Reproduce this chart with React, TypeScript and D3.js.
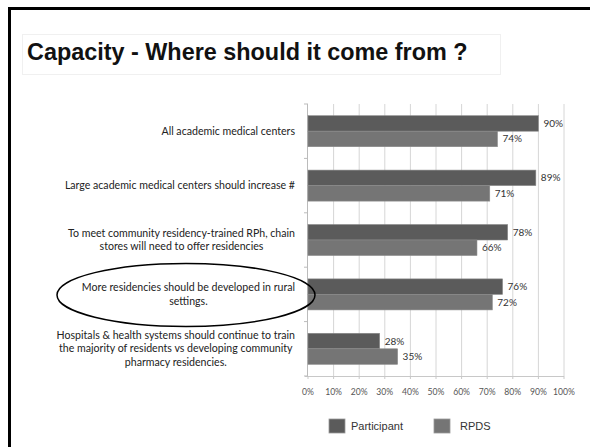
import React, { useEffect, useRef } from "react";
import * as d3 from "d3";

const categories = [
  ["All academic medical centers"],
  ["Large academic medical centers should increase #"],
  ["To meet community  residency-trained RPh, chain", "stores  will need to offer residencies"],
  ["More residencies should be developed in rural", "settings."],
  ["Hospitals & health systems should continue to train", "the majority of residents vs developing community", "pharmacy residencies."],
];
const participant = [90, 89, 78, 76, 28];
const rpds = [74, 71, 66, 72, 35];
const seriesNames = ["Participant", "RPDS"];
const xTicks = [0, 10, 20, 30, 40, 50, 60, 70, 80, 90, 100];
const title = "Capacity - Where should it come from ?";
const highlighted = 3;

const colors = ["#5b5b5b", "#757575"];

export default function App() {
  const ref = useRef<SVGSVGElement>(null);
  useEffect(() => {
    const svg = d3.select(ref.current);
    svg.selectAll("*").remove();

    // frame
    svg.append("rect").attr("x", 9.5).attr("y", 8.5).attr("width", 600).attr("height", 460)
      .attr("fill", "white").attr("stroke", "black").attr("stroke-width", 3);

    // title box
    svg.append("rect").attr("x", 22.5).attr("y", 34.5).attr("width", 478).attr("height", 40)
      .attr("fill", "none").attr("stroke", "#f0f0f0").attr("stroke-width", 1);
    svg.append("text").attr("x", 27).attr("y", 59.5).text(title)
      .attr("font-family", "Liberation Sans, Arial, sans-serif").attr("font-weight", "bold")
      .attr("font-size", 23.4).attr("fill", "#111");

    const left = 308, right = 564, top = 104, bottom = 376;
    const x = d3.scaleLinear().domain([0, 100]).range([left, right]);
    const y = d3.scaleBand<number>().domain(d3.range(categories.length)).range([top, bottom]).paddingInner(0.43).paddingOuter(0.215);
    const sub = d3.scaleBand<number>().domain([0, 1]).range([0, y.bandwidth()]);

    // gridlines
    svg.append("g").selectAll("line").data(xTicks.slice(1)).join("line")
      .attr("x1", (d) => x(d)).attr("x2", (d) => x(d)).attr("y1", top).attr("y2", bottom)
      .attr("stroke", "#d6d6d6").attr("stroke-width", 1);

    // x axis baseline
    svg.append("line").attr("x1", left - 3).attr("x2", right).attr("y1", bottom + 0.5).attr("y2", bottom + 0.5)
      .attr("stroke", "#c8c8c8");
    svg.append("g").selectAll("line").data(xTicks).join("line")
      .attr("x1", (d) => x(d)).attr("x2", (d) => x(d)).attr("y1", bottom).attr("y2", bottom + 3)
      .attr("stroke", "#c8c8c8");
    svg.append("g").selectAll("text").data(xTicks).join("text")
      .attr("x", (d) => x(d)).attr("y", bottom + 19).attr("text-anchor", "middle")
      .attr("font-family", "Lato, sans-serif").attr("font-size", 8.6).attr("fill", "#555")
      .text((d) => d + "%");

    // y axis
    const bandStep = (bottom - top) / categories.length;
    svg.append("line").attr("x1", left - 0.5).attr("x2", left - 0.5).attr("y1", top).attr("y2", bottom)
      .attr("stroke", "#bbb");
    svg.append("g").selectAll("line").data(d3.range(categories.length + 1)).join("line")
      .attr("x1", left - 4).attr("x2", left).attr("y1", (d) => top + d * bandStep).attr("y2", (d) => top + d * bandStep)
      .attr("stroke", "#bbb");

    // bars
    const series = [participant, rpds];
    series.forEach((vals, si) => {
      svg.append("g").selectAll("rect").data(vals).join("rect")
        .attr("x", left).attr("y", (_d, i) => (y(i) as number) + (sub(si) as number))
        .attr("width", (d) => x(d) - left).attr("height", sub.bandwidth())
        .attr("fill", colors[si]).attr("stroke", "#8a8a8a").attr("stroke-width", 0.6);
      svg.append("g").selectAll("text").data(vals).join("text")
        .attr("x", (d) => x(d) + 5).attr("y", (_d, i) => (y(i) as number) + (sub(si) as number) + sub.bandwidth() / 2 + 3.5)
        .attr("font-family", "Lato, sans-serif").attr("font-size", 10).attr("fill", "#333")
        .text((d) => d + "%");
    });

    // category labels
    const labelRight = 295;
    const lineH = 13.5;
    categories.forEach((lines, i) => {
      const cy = (y(i) as number) + y.bandwidth() / 2;
      const g = svg.append("g");
      const texts = g.selectAll("text").data(lines).join("text")
        .attr("font-family", "Lato, sans-serif").attr("font-size", 10.6).attr("fill", "#222")
        .attr("text-anchor", "middle")
        .attr("y", (_d, j) => cy + (j - (lines.length - 1) / 2) * lineH + 3.5)
        .text((d) => d);
      let maxW = 0;
      texts.each(function () {
        maxW = Math.max(maxW, (this as SVGTextElement).getComputedTextLength());
      });
      texts.attr("x", labelRight - maxW / 2);
      if (i === highlighted) {
        svg.append("ellipse").attr("cx", 186).attr("cy", cy + 0.5).attr("rx", 129).attr("ry", 31.5)
          .attr("fill", "none").attr("stroke", "black").attr("stroke-width", 1.5);
      }
    });

    // legend
    const legendX = [329, 434];
    seriesNames.forEach((name, i) => {
      svg.append("rect").attr("x", legendX[i]).attr("y", 419).attr("width", 16).attr("height", 14)
        .attr("fill", colors[i]).attr("stroke", "#999").attr("stroke-width", 0.8);
      svg.append("text").attr("x", legendX[i] + (i === 0 ? 22 : 26)).attr("y", 430)
        .attr("font-family", "Liberation Sans, Arial, sans-serif").attr("font-size", 11).attr("fill", "#333")
        .text(name);
    });
  }, []);
  return (
    <svg ref={ref} width={590} height={447} style={{ position: "absolute", left: 0, top: 0, background: "white" }} />
  );
}
